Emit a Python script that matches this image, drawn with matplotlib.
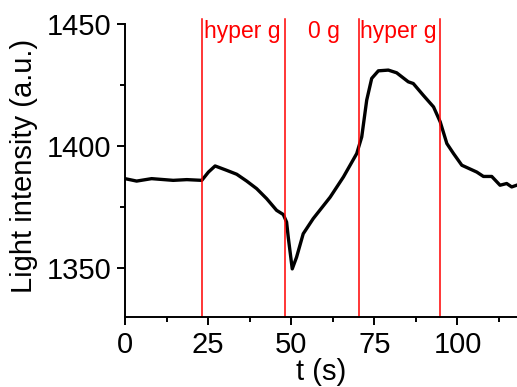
import matplotlib
matplotlib.use("Agg")
import matplotlib.pyplot as plt

plt.rcParams['font.family'] = ['Liberation Sans', 'DejaVu Sans']

# Light intensity trace over time
t_s = [0.0, 3.5, 8.0, 14.5, 18.6, 23.1, 25.1, 27.1, 30.6, 33.6, 36.6, 39.6,
       42.6, 45.6, 47.6, 48.6, 49.1, 50.3, 51.6, 53.6, 56.6, 61.7, 65.7,
       69.7, 71.2, 72.7, 74.2, 76.2, 79.2, 81.7, 85.2, 86.7, 89.7, 92.8,
       94.8, 96.8, 98.8, 101.3, 105.8, 107.8, 110.3, 112.8, 114.8, 116.3,
       117.8]
intensity = [1386.6, 1385.6, 1386.6, 1385.9, 1386.2, 1385.9, 1389.3, 1391.8,
             1390.0, 1388.4, 1385.6, 1382.5, 1378.4, 1373.6, 1371.9, 1368.8,
             1362.6, 1349.6, 1354.4, 1364.0, 1370.2, 1379.0, 1387.3, 1396.9,
             1403.7, 1418.8, 1427.7, 1430.8, 1431.1, 1430.0, 1426.3, 1425.6,
             1420.8, 1416.0, 1409.9, 1401.0, 1396.9, 1392.1, 1389.3, 1387.5,
             1387.5, 1383.9, 1384.6, 1383.2, 1383.9]

# Phase boundaries and labels
phase_bounds = [23.3, 48.1, 70.3, 94.8]
phase_labels = ["hyper g", "0 g", "hyper g"]
phase_label_x = [23.9, 55.1, 70.8]

x_ticks = [0, 25, 50, 75, 100]
y_ticks = [1350, 1400, 1450]

fig = plt.figure(figsize=(5.17, 3.87), dpi=100)
ax = fig.add_axes([125/517, (387-316.7)/387, 1 - 125/517, (316.7-24)/387])

ax.plot(t_s, intensity, color='black', lw=2.4, solid_joinstyle='round')

for b in phase_bounds:
    ax.axvline(b, ymin=0, ymax=1 + 5/292.7, color='#ff0000', lw=1.1, clip_on=False)
for lx, lab in zip(phase_label_x, phase_labels):
    ax.text(lx, 1444.2, lab, color='#ff0000', fontsize=16.5, ha='left', va='baseline')

ax.set_xlim(0, 117.9)
ax.set_ylim(1330, 1450)
ax.set_xticks(x_ticks)
ax.set_yticks(y_ticks)
ax.set_xticks([12.5, 37.5, 62.5, 87.5, 112.5], minor=True)
ax.set_yticks([1375, 1425], minor=True)

for s in ['top', 'right']:
    ax.spines[s].set_visible(False)
for s in ['left', 'bottom']:
    ax.spines[s].set_linewidth(1.4)

ax.tick_params(which='major', direction='out', length=6, width=1.4,
               labelsize=21, pad=4)
ax.tick_params(which='minor', direction='out', length=3.5, width=1.4)

ax.set_xlabel("t (s)", fontsize=21)
ax.set_ylabel("Light intensity (a.u.)", fontsize=21)
ax.xaxis.set_label_coords(0.5, -0.14)
ax.yaxis.set_label_coords(-0.222, 0.515)

fig.savefig("out.png", dpi=100)
